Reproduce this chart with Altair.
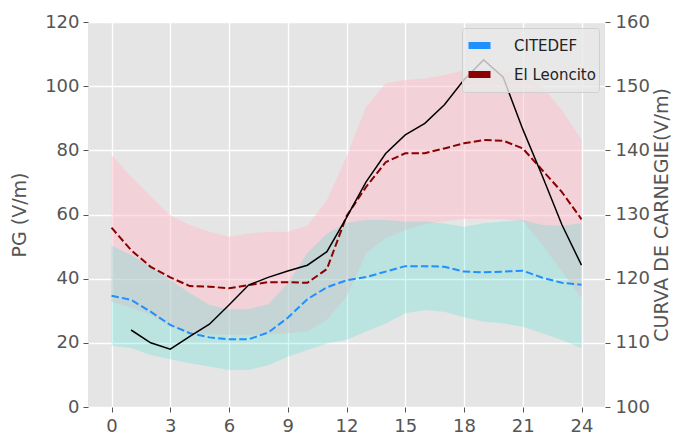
import altair as alt
import pandas as pd

# ---- data ----
hours = list(range(25))

cit_mean = [34.7, 33.4, 29.7, 25.6, 23.0, 21.7, 21.1, 21.1, 23.2, 27.8, 33.6, 37.3, 39.5,
            40.5, 42.2, 43.9, 43.9, 43.7, 42.2, 42.0, 42.2, 42.5, 40.3, 38.7, 38.1]
cit_hi = [50.3, 47.4, 43.7, 39.6, 35.5, 31.8, 30.5, 30.5, 32.0, 38.5, 48.0, 54.0, 57.4,
          58.3, 58.3, 57.8, 57.8, 57.2, 56.2, 57.3, 57.8, 58.3, 56.7, 56.5, 57.3]
cit_lo = [19.1, 18.4, 16.2, 14.9, 13.6, 12.6, 11.5, 11.6, 13.0, 15.7, 17.8, 19.8, 21.0,
          23.5, 26.0, 29.2, 30.2, 29.7, 28.0, 26.6, 26.1, 25.0, 23.0, 20.9, 18.3]

leo_mean = [55.9, 48.9, 43.7, 40.4, 37.7, 37.5, 37.0, 38.0, 38.9, 38.9, 38.7, 43.0, 59.5,
            68.6, 76.3, 79.1, 79.1, 80.6, 82.2, 83.2, 83.0, 80.6, 73.8, 67.0, 58.5]
leo_hi = [78.6, 71.8, 65.6, 59.8, 56.7, 54.6, 53.1, 54.1, 54.6, 54.6, 56.5, 64.5, 78.0,
          93.6, 100.9, 101.9, 102.4, 103.5, 105.0, 105.6, 105.0, 103.5, 99.8, 92.6, 83.2]
leo_lo = [32.8, 31.0, 28.7, 25.0, 23.0, 22.7, 22.5, 22.5, 22.7, 23.0, 23.5, 27.1, 34.4,
          47.9, 52.6, 55.2, 57.0, 58.0, 58.6, 58.6, 58.5, 58.0, 50.5, 42.2, 33.9]

carnegie_hours = list(range(1, 25))
carnegie = [112.0, 110.0, 109.0, 111.0, 112.9, 115.9, 119.0, 120.2, 121.2, 122.1, 124.2, 129.5,
            135.1, 139.5, 142.4, 144.2, 147.1, 151.0, 154.1, 151.4, 143.3, 136.0, 128.4, 122.1]

series_names = ["CITEDEF", "El Leoncito"]
series_colors = ["#1E90FF", "#8B0000"]
x_ticks = list(range(0, 25, 3))
y_ticks = [0, 20, 40, 60, 80, 100, 120]
y2_ticks = [100, 110, 120, 130, 140, 150, 160]

# ---- tables ----
bands = pd.DataFrame({"hour": hours, "cit_lo": cit_lo, "cit_hi": cit_hi,
                      "leo_lo": leo_lo, "leo_hi": leo_hi})
lines = pd.DataFrame({"hour": hours + hours, "value": cit_mean + leo_mean,
                      "serie": [series_names[0]] * len(hours) + [series_names[1]] * len(hours)})
carn = pd.DataFrame({"hour": carnegie_hours, "curva": carnegie})

GRAY = "#555555"
xscale = alt.Scale(domain=[-1.2, 25.2], nice=False, zero=False)
xaxis = alt.Axis(values=x_ticks, title=None, grid=True, labelPadding=5)
yscale = alt.Scale(domain=[0, 120], nice=False, zero=False)
yaxis = alt.Axis(values=y_ticks, title="PG (V/m)", grid=True, labelPadding=4, titlePadding=15)

X = alt.X("hour:Q", scale=xscale, axis=xaxis)

leo_band = alt.Chart(bands).mark_area(color="#FFC0CB", opacity=0.5).encode(
    x=X, y=alt.Y("leo_lo:Q", scale=yscale, axis=yaxis), y2="leo_hi:Q")
cit_band = alt.Chart(bands).mark_area(color="#40E0D0", opacity=0.25).encode(
    x=X, y=alt.Y("cit_lo:Q", scale=yscale, axis=yaxis), y2="cit_hi:Q")
dashed = alt.Chart(lines).mark_line(strokeDash=[7.4, 3.2], strokeWidth=2).encode(
    x=X,
    y=alt.Y("value:Q", scale=yscale, axis=yaxis),
    color=alt.Color("serie:N", scale=alt.Scale(domain=series_names, range=series_colors),
                    legend=alt.Legend(title=None, orient="top-right", offset=6,
                                      symbolType="stroke", symbolSize=484,
                                      symbolStrokeWidth=7, symbolDash=[1, 0],
                                      labelFontSize=15, labelColor="#222222",
                                      labelFont="DejaVu Sans", labelOffset=20,
                                      rowPadding=0, padding=3,
                                      fillColor="rgba(232,232,232,0.8)",
                                      strokeColor="#D0D0D0", cornerRadius=3)),
)
left = alt.layer(leo_band, cit_band, dashed)

black = alt.Chart(carn).mark_line(color="black", strokeWidth=1.5).encode(
    x=X,
    y=alt.Y("curva:Q", scale=alt.Scale(domain=[100, 160], nice=False, zero=False),
            axis=alt.Axis(orient="right", values=y2_ticks, title="CURVA DE CARNEGIE(V/m)",
                          grid=False, titleAngle=270, titleBaseline="top",
                          labelPadding=5, titlePadding=3)),
)

chart = (
    alt.layer(left, black)
    .resolve_scale(y="independent")
    .properties(width=517, height=385,
                padding={"left": 80, "top": 14, "right": 67, "bottom": 27},
                autosize=alt.AutoSizeParams(type="none"))
    .configure_view(fill="#E5E5E5", stroke=None)
    .configure_axis(domain=False, gridColor="white", gridWidth=1.3,
                    tickColor=GRAY, tickSize=5, tickWidth=1,
                    labelColor=GRAY, labelFont="DejaVu Sans", labelFontSize=18,
                    titleColor=GRAY, titleFont="DejaVu Sans", titleFontSize=19,
                    titleFontWeight="normal")
)

chart.save("out.html", embed_options={"renderer": "svg", "actions": False})
